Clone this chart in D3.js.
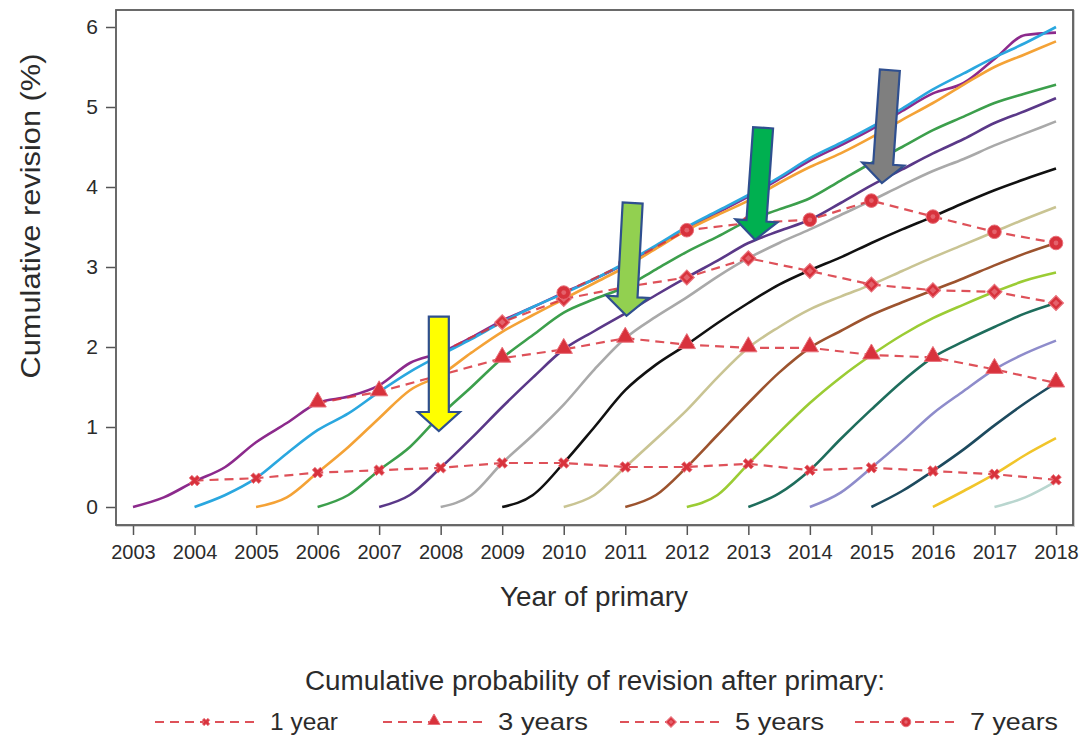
<!DOCTYPE html>
<html><head><meta charset="utf-8">
<script src="https://cdn.jsdelivr.net/npm/d3@7/dist/d3.min.js"></script>
<style>
html,body{margin:0;padding:0;background:#fff;}
text{font-family:"Liberation Sans",Arial,sans-serif;fill:#2b2b2b;}
</style></head>
<body><svg id="chart" width="1083" height="735"></svg>
<script>
// ---------- data ----------
const cohortStarts = [2003,2004,2005,2006,2007,2008,2009,2010,2011,2012,2013,2014,2015,2016,2017];
// cumulative revision (%) every half year after the primary year
const rev2003 = [0,0.12,0.32,0.5,0.81,1.05,1.3,1.38,1.52,1.8,1.93,2.12,2.33,2.5,2.68,2.85,3.04,3.25,3.48,3.68,3.88,4.1,4.33,4.52,4.72,4.95,5.17,5.3,5.6,5.9,5.93];
const rev2004 = [0,0.15,0.36,0.67,0.96,1.17,1.44,1.69,1.9,2.1,2.31,2.5,2.67,2.85,3.05,3.27,3.5,3.7,3.9,4.12,4.36,4.55,4.75,4.98,5.22,5.42,5.62,5.8,6.0];
const rev2005 = [0,0.12,0.43,0.75,1.11,1.46,1.65,1.93,2.19,2.4,2.6,2.8,3.0,3.23,3.46,3.65,3.83,4.05,4.25,4.42,4.62,4.84,5.05,5.28,5.5,5.66,5.82];
const rev2006 = [0,0.15,0.46,0.75,1.15,1.5,1.86,2.15,2.43,2.6,2.75,2.97,3.19,3.38,3.58,3.72,3.86,4.08,4.3,4.5,4.71,4.88,5.05,5.17,5.28];
const rev2007 = [0,0.15,0.49,0.86,1.25,1.62,1.97,2.2,2.42,2.65,2.87,3.08,3.3,3.45,3.59,3.8,4.02,4.22,4.42,4.6,4.8,4.95,5.11];
const rev2008 = [0,0.15,0.55,0.9,1.28,1.72,2.11,2.38,2.62,2.88,3.11,3.3,3.47,3.65,3.83,4.02,4.2,4.35,4.52,4.67,4.82];
const rev2009 = [0,0.15,0.55,1.0,1.46,1.78,2.03,2.3,2.55,2.78,2.96,3.12,3.3,3.47,3.63,3.8,3.96,4.1,4.23];
const rev2010 = [0,0.15,0.5,0.85,1.21,1.62,1.99,2.25,2.47,2.63,2.78,2.95,3.12,3.28,3.44,3.6,3.75];
const rev2011 = [0,0.15,0.5,0.9,1.3,1.68,1.99,2.2,2.4,2.56,2.71,2.86,3.02,3.17,3.3];
const rev2012 = [0,0.15,0.54,0.93,1.3,1.62,1.9,2.15,2.36,2.53,2.69,2.83,2.93];
const rev2013 = [0,0.17,0.46,0.85,1.22,1.57,1.87,2.07,2.25,2.42,2.55];
const rev2014 = [0,0.18,0.49,0.82,1.17,1.45,1.72,1.92,2.08];
const rev2015 = [0,0.2,0.45,0.72,1.02,1.3,1.55];
const rev2016 = [0,0.2,0.41,0.65,0.86];
const rev2017 = [0,0.12,0.32];
const cohortValues = [rev2003,rev2004,rev2005,rev2006,rev2007,rev2008,rev2009,rev2010,rev2011,rev2012,rev2013,rev2014,rev2015,rev2016,rev2017];
const cohortColors = ["#8c2a8c","#2aa7df","#f4a236","#3c9f4c","#5a3888","#a9a9a9","#111111","#c9c493","#9c532e","#9bcc34","#1e6d5c","#8e8ccb","#1d4a5e","#f1c52a","#b9d6cf"];

// cumulative probability of revision after primary (dashed series)
const oneYearX   = [2004,2005,2006,2007,2008,2009,2010,2011,2012,2013,2014,2015,2016,2017,2018];
const oneYear    = [0.33,0.36,0.43,0.46,0.49,0.55,0.55,0.5,0.5,0.54,0.46,0.49,0.45,0.41,0.34];
const threeYearsX= [2006,2007,2008,2009,2010,2011,2012,2013,2014,2015,2016,2017,2018];
const threeYears = [1.3,1.44,1.65,1.86,1.97,2.11,2.03,1.99,1.99,1.9,1.87,1.72,1.55];
const fiveYearsX = [2008,2009,2010,2011,2012,2013,2014,2015,2016,2017,2018];
const fiveYears  = [1.93,2.31,2.6,2.75,2.87,3.11,2.95,2.78,2.71,2.69,2.55];
const sevenYearsX= [2010,2011,2012,2013,2014,2015,2016,2017,2018];
const sevenYears = [2.68,3.04,3.46,3.55,3.59,3.83,3.63,3.44,3.3];
const legendLabels = ["1 year","3 years","5 years","7 years"];
const legendSymbols = ["cross","triangle","diamond","circle"];

const xTickLabels = ["2003","2004","2005","2006","2007","2008","2009","2010","2011","2012","2013","2014","2015","2016","2017","2018"];
const yTickValues = [0,1,2,3,4,5,6];

// annotation arrows: fill, top point and tip point in data units
const arrowFills = ["#ffff00","#92d050","#00b050","#7f7f7f"];
const arrowTopX  = [2007.97,2011.12,2013.24,2015.3];
const arrowTopY  = [2.38,3.8,4.74,5.46];
const arrowTipX  = [2007.97,2011.02,2013.11,2015.17];
const arrowTipY  = [0.95,2.39,3.34,4.05];

// ---------- drawing ----------
const svg = d3.select("#chart");
const frame = {l:116, t:10, r:1073, b:525};
const x = d3.scaleLinear().domain([2003,2018]).range([133,1056]);
const y = d3.scaleLinear().domain([0,6]).range([507,27]);

// frame
svg.append("rect").attr("x",frame.l+1).attr("y",frame.t+1)
  .attr("width",frame.r-frame.l).attr("height",frame.b-frame.t)
  .attr("fill","none").attr("stroke","#cfcfcf").attr("stroke-width",2);
svg.append("rect").attr("x",frame.l).attr("y",frame.t)
  .attr("width",frame.r-frame.l).attr("height",frame.b-frame.t)
  .attr("fill","#fff").attr("stroke","#5a5a5a").attr("stroke-width",1.8);

// axes
const xAxis = d3.axisBottom(x).tickValues(xTickLabels.map(Number)).tickFormat(d3.format("d")).tickSize(9).tickPadding(6);
const gx = svg.append("g").attr("transform",`translate(0,${frame.b+1})`).call(xAxis);
gx.select(".domain").remove();
gx.selectAll(".tick line").attr("stroke","#555").attr("stroke-width",1.5);
gx.selectAll(".tick text").attr("font-size",20).attr("fill","#2b2b2b").attr("dy","0.9em");

const yAxis = d3.axisLeft(y).tickValues(yTickValues).tickFormat(d3.format("d")).tickSize(9).tickPadding(8);
const gy = svg.append("g").attr("transform",`translate(${frame.l-1},0)`).call(yAxis);
gy.select(".domain").remove();
gy.selectAll(".tick line").attr("stroke","#555").attr("stroke-width",1.5);
gy.selectAll(".tick text").attr("font-size",21).attr("fill","#2b2b2b");

// axis titles
svg.append("text").attr("x",594).attr("y",606).attr("text-anchor","middle")
  .attr("font-size",27).attr("textLength",188).attr("lengthAdjust","spacingAndGlyphs").text("Year of primary");
svg.append("text").attr("transform","translate(40,216) rotate(-90)").attr("text-anchor","middle")
  .attr("font-size",27).attr("textLength",325).attr("lengthAdjust","spacingAndGlyphs").text("Cumulative revision (%)");

// cohort curves
const line = d3.line().x(d=>x(d[0])).y(d=>y(d[1])).curve(d3.curveMonotoneX);
cohortValues.forEach((vals,i)=>{
  const pts = vals.map((v,j)=>[cohortStarts[i]+j*0.5, v]);
  svg.append("path").datum(pts).attr("d",line).attr("fill","none")
    .attr("stroke",cohortColors[i]).attr("stroke-width",2.6).attr("stroke-linejoin","round");
});

// dashed probability series
const red = "#d8323c";
const dashLine = d3.line().x(d=>x(d[0])).y(d=>y(d[1]));
function drawMarker(g,kind,cx,cy,scale){
  const k = scale||1;
  if(kind==="cross"){
    g.append("path").attr("transform",`translate(${cx},${cy}) rotate(45)`)
      .attr("d",d3.symbol(d3.symbolCross,70*k*k)()).attr("fill",red).attr("stroke","#e8707a").attr("stroke-width",0.8);
  } else if(kind==="triangle"){
    g.append("path").attr("transform",`translate(${cx},${cy-1})`)
      .attr("d",d3.symbol(d3.symbolTriangle,130*k*k)()).attr("fill",red).attr("stroke","#e8707a").attr("stroke-width",1);
  } else if(kind==="diamond"){
    g.append("path").attr("transform",`translate(${cx},${cy}) rotate(45)`)
      .attr("d",d3.symbol(d3.symbolSquare,110*k*k)()).attr("fill",red).attr("stroke","#e8707a").attr("stroke-width",1.2);
    g.append("path").attr("transform",`translate(${cx},${cy}) rotate(45)`)
      .attr("d",d3.symbol(d3.symbolSquare,22*k*k)()).attr("fill","#e4626c");
  } else {
    g.append("circle").attr("cx",cx).attr("cy",cy).attr("r",6.8*k).attr("fill",red).attr("stroke","#e8707a").attr("stroke-width",1);
    g.append("circle").attr("cx",cx).attr("cy",cy).attr("r",2.4*k).attr("fill","#e4626c");
  }
}
const probSeries = [[oneYearX,oneYear],[threeYearsX,threeYears],[fiveYearsX,fiveYears],[sevenYearsX,sevenYears]];
const gProb = svg.append("g");
probSeries.forEach(([xs,vs])=>{
  const pts = xs.map((xx,j)=>[xx,vs[j]]);
  gProb.append("path").datum(pts).attr("d",dashLine).attr("fill","none")
    .attr("stroke",red).attr("stroke-opacity",0.85).attr("stroke-width",2.2).attr("stroke-dasharray","9,6");
});
probSeries.forEach(([xs,vs],i)=>{
  xs.forEach((xx,j)=>drawMarker(gProb,legendSymbols[i],x(xx),y(vs[j]),1));
});

// arrows
const gArr = svg.append("g");
arrowFills.forEach((fill,i)=>{
  const t0=[x(arrowTopX[i]),y(arrowTopY[i])], t1=[x(arrowTipX[i]),y(arrowTipY[i])];
  const dx=t1[0]-t0[0], dy=t1[1]-t0[1], L=Math.hypot(dx,dy);
  const ux=dx/L, uy=dy/L, nx=-uy, ny=ux;
  const sw=10, hw=21, hl=19;
  const hb=[t1[0]-ux*hl, t1[1]-uy*hl];
  const P=(p,s)=>[p[0]+nx*s,p[1]+ny*s];
  const pts=[P(t0,sw),P(hb,sw),P(hb,hw),t1,P(hb,-hw),P(hb,-sw),P(t0,-sw)];
  gArr.append("path").attr("d","M"+pts.map(p=>p.join(",")).join("L")+"Z")
    .attr("fill",fill).attr("stroke","#2f4f8f").attr("stroke-width",2.2).attr("stroke-linejoin","miter");
});

// legend
svg.append("text").attr("x",595).attr("y",690).attr("text-anchor","middle")
  .attr("font-size",27).attr("textLength",580).attr("lengthAdjust","spacingAndGlyphs")
  .text("Cumulative probability of revision after primary:");
const legLineX = [155,383,620,855];
const legLabelW = [68,90,89,88];
const gLeg = svg.append("g");
legendLabels.forEach((lab,i)=>{
  const x0 = legLineX[i], ly = 722;
  gLeg.append("line").attr("x1",x0).attr("x2",x0+103).attr("y1",ly).attr("y2",ly)
    .attr("stroke",red).attr("stroke-opacity",0.85).attr("stroke-width",2.2).attr("stroke-dasharray","9,6");
  drawMarker(gLeg,legendSymbols[i],x0+51,ly,0.7);
  gLeg.append("text").attr("x",x0+115).attr("y",ly+8).attr("font-size",24)
    .attr("textLength",legLabelW[i]).attr("lengthAdjust","spacingAndGlyphs").text(lab);
});
</script></body></html>
